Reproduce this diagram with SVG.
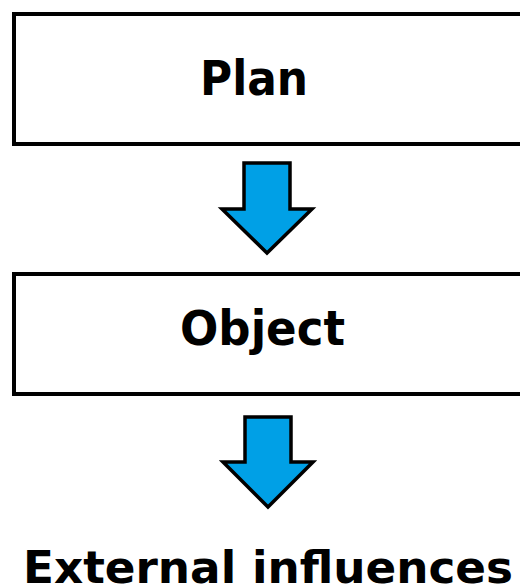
<svg xmlns="http://www.w3.org/2000/svg" width="520" height="587" viewBox="0 0 520 587">
<style>
.box{fill:#fff;stroke:#000;stroke-width:4}
.arr{fill:#00A0E6;stroke:#000;stroke-width:3.5;stroke-linejoin:miter}
.t{font-family:"DejaVu Sans",Verdana,sans-serif;font-weight:bold;font-size:48px;fill:#000}
.b{font-size:45px}
</style>
<rect width="520" height="587" fill="#fff"/>
<g id="plan">
<rect class="box" x="14" y="14" width="520" height="130"/>
<text class="t" x="200" y="95" textLength="108" lengthAdjust="spacingAndGlyphs">Plan</text>
</g>
<g id="object">
<rect class="box" x="14" y="274" width="520" height="120"/>
<text class="t" x="180" y="345" textLength="165" lengthAdjust="spacingAndGlyphs">Object</text>
</g>
<g id="external">
<text class="t b" x="23" y="583" textLength="490" lengthAdjust="spacingAndGlyphs">External influences</text>
</g>
<g id="connectors">
<polygon class="arr" points="244,163 290,163 290,209 312,209 267,253 222,209 244,209"/>
<polygon class="arr" points="245,417 291,417 291,462 313,462 268,507 223,462 245,462"/>
</g>
</svg>
